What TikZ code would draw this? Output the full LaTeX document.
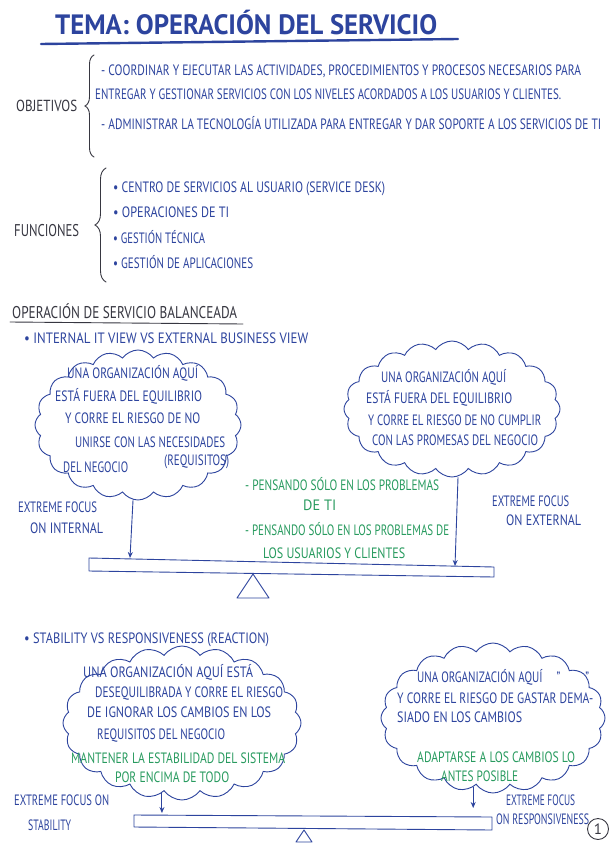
\documentclass[tikz,border=0pt]{standalone}
\usepackage{fontspec}
\setmainfont{PT Sans}
\usepackage{graphicx}
\usetikzlibrary{shapes.symbols,decorations.pathreplacing,arrows.meta}
\definecolor{ink}{RGB}{45,68,158}
\definecolor{gink}{RGB}{40,155,95}
\definecolor{dink}{RGB}{55,55,65}
\newcommand{\hw}[2]{\resizebox{#1pt}{\height}{#2}}
\newcommand{\tx}[6][ink]{\node[txt,text=#1] (#2) at (#3,#4) {\hw{#5}{#6}};}
\begin{document}
\begin{tikzpicture}[x=1pt,y=-1pt,
  txt/.style={anchor=base west,inner sep=0pt,font=\fontsize{15}{17}\selectfont},
  pen/.style={draw=ink,line width=0.9pt,line join=round,line cap=round},
  dpen/.style={draw=dink,line width=0.9pt,line cap=round},
  bubble/.style={cloud,cloud ignores aspect,draw=ink,line width=0.9pt,cloud puffs=20,cloud puff arc=110,inner sep=0pt},
  arr/.style={pen,-{Stealth[length=6pt,width=5pt]}},
  bracestyle/.style={dpen,decorate,decoration={brace,amplitude=9pt}}]
\useasboundingbox[fill=white] (0,0) rectangle (613,848);

% title
\tx{title}{55}{35}{382}{\fontsize{28}{30}\selectfont\bfseries TEMA: OPERACIÓN DEL SERVICIO}
\coordinate (ul1) at (41,44);
\coordinate (ul2) at (458,39);
\draw[draw=ink,line width=2.4pt,line cap=round] (ul1) -- (ul2);

% objetivos
\tx[dink]{obj}{16}{112}{61}{\fontsize{16}{18}\selectfont OBJETIVOS}
\coordinate (ob1) at (94,157);
\coordinate (ob2) at (94,55);
\draw[bracestyle] (ob1) -- (ob2);
\tx{o1}{101}{76}{480}{- COORDINAR Y EJECUTAR LAS ACTIVIDADES, PROCEDIMIENTOS Y PROCESOS NECESARIOS PARA}
\tx{o2}{95}{100}{466}{ENTREGAR Y GESTIONAR SERVICIOS CON LOS NIVELES ACORDADOS A LOS USUARIOS Y CLIENTES.}
\tx{o3}{101}{129}{500}{- ADMINISTRAR LA TECNOLOGÍA UTILIZADA PARA ENTREGAR Y DAR SOPORTE A LOS SERVICIOS DE TI}

% funciones
\tx[dink]{fun}{14}{236}{65}{\fontsize{17}{19}\selectfont FUNCIONES}
\coordinate (fb1) at (106,282);
\coordinate (fb2) at (106,168);
\draw[bracestyle,decoration={brace,amplitude=11pt}] (fb1) -- (fb2);
\tx{f1}{113}{192}{272}{• CENTRO DE SERVICIOS AL USUARIO (SERVICE DESK)}
\tx{f2}{113}{217}{116}{• OPERACIONES DE TI}
\tx{f3}{113}{243}{92}{• GESTIÓN TÉCNICA}
\tx{f4}{113}{268}{140}{• GESTIÓN DE APLICACIONES}

% balanced operation
\tx[dink]{head}{12}{318}{225}{\fontsize{17}{19}\selectfont OPERACIÓN DE SERVICIO BALANCEADA}
\coordinate (hu1) at (10,322);
\coordinate (hu2) at (243,324);
\draw[dpen] (hu1) -- (hu2);
\tx{iv}{24}{343}{284}{\fontsize{15}{17}\selectfont • INTERNAL IT VIEW VS EXTERNAL BUSINESS VIEW}

% clouds section 1
\node[bubble,minimum width=206pt,minimum height=150pt] (cL1) at (138,425) {};
\node[bubble,minimum width=216pt,minimum height=136pt] (cR1) at (452,409) {};
\tx{a1}{67}{378}{131}{UNA ORGANIZACIÓN AQUÍ}
\tx{a2}{55}{401}{147}{ESTÁ FUERA DEL EQUILIBRIO}
\tx{a3}{65}{423}{135}{Y CORRE EL RIESGO DE NO}
\tx{a4}{75}{447}{150}{UNIRSE CON LAS NECESIDADES}
\tx{a5}{164}{465}{65}{(REQUISITOS)}
\tx{a6}{63}{472}{65}{DEL NEGOCIO}
\tx{b1}{381}{382}{125}{UNA ORGANIZACIÓN AQUÍ}
\tx{b2}{366}{403}{146}{ESTÁ FUERA DEL EQUILIBRIO}
\tx{b3}{368}{425}{173}{Y CORRE EL RIESGO DE NO CUMPLIR}
\tx{b4}{372}{445}{166}{CON LAS PROMESAS DEL NEGOCIO}

\tx{e1}{18}{512}{79}{EXTREME FOCUS}
\tx{e2}{30}{533}{73}{ON INTERNAL}
\tx{e3}{492}{506}{77}{EXTREME FOCUS}
\tx{e4}{506}{525}{75}{ON EXTERNAL}

\tx[gink]{g1}{245}{490}{194}{- PENSANDO SÓLO EN LOS PROBLEMAS}
\tx[gink]{g2}{303}{510}{33}{DE TI}
\tx[gink]{g3}{245}{535}{204}{- PENSANDO SÓLO EN LOS PROBLEMAS DE}
\tx[gink]{g4}{263}{558}{142}{LOS USUARIOS Y CLIENTES}

% beam 1
\draw[pen] (89,558) -- (494,567) -- (494,577) -- (89,571) -- cycle;
\draw[pen] (253,574) -- (237,598) -- (269,598) -- cycle;
\coordinate (t1) at (130,558);
\coordinate (t2) at (455,566);
\draw[arr] ([xshift=-5pt]cL1.south) -- (t1);
\draw[arr] ([xshift=6pt]cR1.south) -- (t2);

% section 2
\tx{st}{24}{643}{245}{\fontsize{15}{17}\selectfont • STABILITY VS RESPONSIVENESS (REACTION)}
\node[bubble,minimum width=238pt,minimum height=154pt] (cL2) at (182,723) {};
\node[bubble,minimum width=224pt,minimum height=150pt] (cR2) at (493,718) {};
\tx{c1}{83}{677}{170}{UNA ORGANIZACIÓN AQUÍ ESTÁ}
\tx{c2}{95}{697}{188}{DESEQUILIBRADA Y CORRE EL RIESGO}
\tx{c3}{87}{717}{184}{DE IGNORAR LOS CAMBIOS EN LOS}
\tx{c4}{97}{739}{128}{REQUISITOS DEL NEGOCIO}
\tx[gink]{c5}{71}{763}{214}{MANTENER LA ESTABILIDAD DEL SISTEMA}
\tx[gink]{c6}{115}{782}{114}{POR ENCIMA DE TODO}
\tx{d1}{417}{682}{172}{UNA ORGANIZACIÓN AQUÍ \quad " \qquad "}
\tx{d2}{397}{703}{196}{Y CORRE EL RIESGO DE GASTAR DEMA-}
\tx{d3}{397}{722}{125}{SIADO EN LOS CAMBIOS}
\tx[gink]{d4}{417}{762}{158}{ADAPTARSE A LOS CAMBIOS LO}
\tx[gink]{d5}{441}{781}{77}{ANTES POSIBLE}

\tx{h1}{14}{805}{95}{EXTREME FOCUS ON}
\tx{h2}{28}{830}{43}{STABILITY}
\tx{h3}{506}{805}{69}{EXTREME FOCUS}
\tx{h4}{496}{824}{93}{ON RESPONSIVENESS}

% beam 2
\draw[pen] (134,815) -- (492,817) -- (492,830) -- (134,827) -- cycle;
\draw[pen] (304,830) -- (296,842) -- (312,842) -- cycle;
\coordinate (t3) at (160,813);
\coordinate (t4) at (472,808);
\draw[arr] (cL2.254) -- (cL2.254 |- t3);
\draw[arr] (cR2.254) -- (cR2.254 |- t4);

% page number
\node[circle,draw=dink,line width=0.9pt,minimum size=21pt,inner sep=0pt,text=dink,font=\fontsize{15}{17}\selectfont] (pg) at (598,829) {1};
\end{tikzpicture}
\end{document}
